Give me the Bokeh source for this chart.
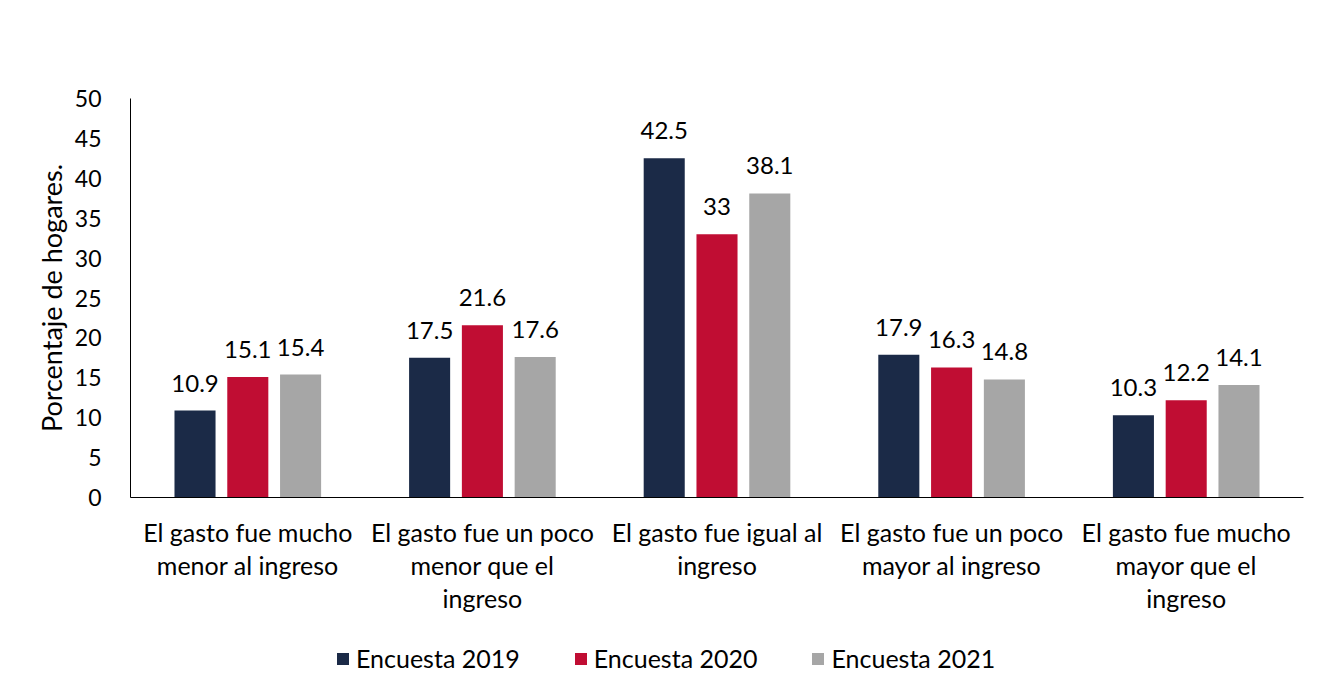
from bokeh.plotting import figure
from bokeh.layouts import column
from bokeh.models import ColumnDataSource, FactorRange, FixedTicker, Legend, LegendItem, Range1d
from bokeh.transform import dodge
from bokeh.core.properties import value
from bokeh.embed import file_html
from bokeh.resources import INLINE

categories = [
    "El gasto fue mucho\nmenor al ingreso",
    "El gasto fue un poco\nmenor que el\ningreso",
    "El gasto fue igual al\ningreso",
    "El gasto fue un poco\nmayor al ingreso",
    "El gasto fue mucho\nmayor que el\ningreso",
]
series_names = ["Encuesta 2019", "Encuesta 2020", "Encuesta 2021"]
v2019 = [10.9, 17.5, 42.5, 17.9, 10.3]
v2020 = [15.1, 21.6, 33, 16.3, 12.2]
v2021 = [15.4, 17.6, 38.1, 14.8, 14.1]
colors = ["#1b2a47", "#c00d33", "#a6a6a6"]
y_ticks = [0, 5, 10, 15, 20, 25, 30, 35, 40, 45, 50]

FONT = "Lato"

def fmt(v):
    return ("%g" % v)

src = ColumnDataSource(dict(
    cat=categories,
    v2019=v2019, v2020=v2020, v2021=v2021,
    l2019=[fmt(v) for v in v2019],
    l2020=[fmt(v) for v in v2020],
    l2021=[fmt(v) for v in v2021],
))

p = figure(
    width=1318, height=620,
    x_range=FactorRange(factors=categories, range_padding=0),
    y_range=(0, 50),
    output_backend="svg", toolbar_location=None,
    min_border_left=130, min_border_right=15, min_border_top=98, min_border_bottom=123,
)

offsets = [-0.225, 0.0, 0.225]
keys = ["2019", "2020", "2021"]
for off, k, c in zip(offsets, keys, colors):
    p.vbar(x=dodge("cat", off, range=p.x_range), top="v" + k, width=0.175,
           source=src, fill_color=c, line_color=None)
    p.text(x=dodge("cat", off, range=p.x_range), y="v" + k, text="l" + k, source=src,
           text_align="center", text_baseline="bottom", y_offset=-19,
           text_font=value(FONT), text_font_size="24px", text_color="#000000")

p.xgrid.visible = False
p.ygrid.visible = False
p.outline_line_color = None

p.yaxis.ticker = FixedTicker(ticks=y_ticks)
p.yaxis.axis_label = "Porcentaje de hogares."
p.yaxis.axis_label_text_font = FONT
p.yaxis.axis_label_text_font_style = "normal"
p.yaxis.axis_label_text_font_size = "27px"
p.yaxis.axis_label_text_color = "#000000"
p.yaxis.axis_label_standoff = 4
p.yaxis.major_label_text_font = FONT
p.yaxis.major_label_text_font_size = "23px"
p.yaxis.major_label_text_color = "#000000"
p.yaxis.major_label_standoff = 23
p.yaxis.major_tick_line_color = None
p.yaxis.minor_tick_line_color = None
p.yaxis.axis_line_color = "#000000"

p.xaxis.major_label_text_font = FONT
p.xaxis.major_label_text_font_size = "25px"
p.xaxis.major_label_text_color = "#000000"
p.xaxis.major_label_text_line_height = 1.1
p.xaxis.major_label_standoff = 13
p.xaxis.major_tick_line_color = None
p.xaxis.minor_tick_line_color = None
p.xaxis.axis_line_color = "#000000"

# legend strip below the chart (its frame is aligned with the chart's frame)
lf = figure(width=1318, height=70, x_range=Range1d(0, 1), y_range=Range1d(0, 1),
            x_axis_type=None, y_axis_type=None,
            output_backend="svg", toolbar_location=None, min_border=0)
lf.xgrid.visible = False
lf.ygrid.visible = False
lf.outline_line_color = None
# proxy renderers for the legend swatches, placed far outside the visible range
legend_renderers = [lf.vbar(x=[-100], top=[-99], bottom=[-100], width=0.1,
                            fill_color=c, line_color=None)
                    for c in colors]

legend = Legend(
    items=[LegendItem(label=n, renderers=[r]) for n, r in zip(series_names, legend_renderers)],
    orientation="horizontal", location=(205, 17),
    glyph_width=15, glyph_height=15, label_standoff=6, spacing=53,
    label_text_font=FONT, label_text_font_size="25px", label_text_color="#000000",
    border_line_color=None, background_fill_alpha=0, padding=0, margin=0,
)
lf.add_layout(legend, "center")

layout = column(p, lf, spacing=0)
open("out.html", "w").write(file_html(layout, INLINE))
